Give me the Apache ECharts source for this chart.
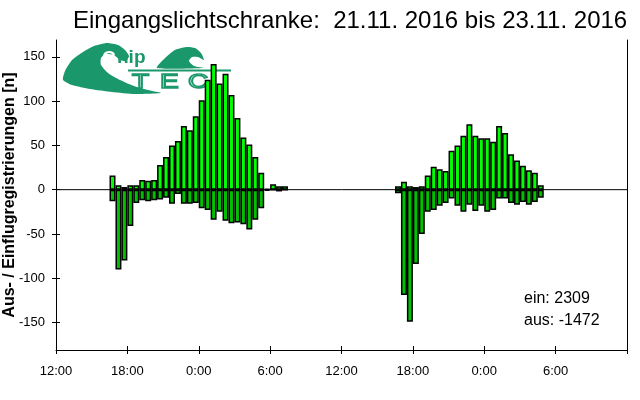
<!DOCTYPE html>
<html><head><meta charset="utf-8">
<script src="https://cdn.jsdelivr.net/npm/echarts@6/dist/echarts.min.js"></script>
<style>html,body{margin:0;padding:0;background:#fff}#c{width:640px;height:400px}</style>
</head><body><div id="c"></div>
<script>
const titleText = 'Eingangslichtschranke:  21.11. 2016 bis 23.11. 2016';
const yAxisTitle = 'Aus- / Einflugregistrierungen [n]';
const xTickLabels = ['12:00','18:00','0:00','6:00','12:00','18:00','0:00','6:00',''];
const yTickValues = [-150,-100,-50,0,50,100,150];
const summaryLines = ['ein: 2309','aus: -1472'];

// half-hour bins, night 21.11 -> 22.11
const night1Times = ['16:30','17:00','17:30','18:00','18:30','19:00','19:30','20:00','20:30','21:00','21:30','22:00','22:30','23:00','23:30',
                     '0:00','0:30','1:00','1:30','2:00','2:30','3:00','3:30','4:00','4:30','5:00','5:30','6:00','6:30','7:00'];
const night1Ein = [16,5,3,5,5,11,10,11,28,37,50,55,72,67,83,101,124,142,120,131,107,81,59,51,37,19,1,6,4,4];
const night1Aus = [-13,-90,-80,-41,-15,-12,-13,-12,-11,-9,-16,-5,-16,-16,-15,-21,-23,-34,-25,-35,-38,-37,-39,-45,-34,-21,-1,0,-2,0];

// half-hour bins, night 22.11 -> 23.11
const night2Times = ['16:30','17:00','17:30','18:00','18:30','19:00','19:30','20:00','20:30','21:00','21:30','22:00','22:30','23:00','23:30',
                     '0:00','0:30','1:00','1:30','2:00','2:30','3:00','3:30','4:00','4:30'];
const night2Ein = [4,9,4,3,4,16,26,23,21,44,50,61,74,61,58,58,54,72,64,40,33,27,22,19,5];
const night2Aus = [-4,-119,-149,-84,-50,-25,-23,-18,-15,-10,-18,-25,-17,-24,-18,-25,-23,-10,-10,-15,-17,-14,-17,-14,-9];

// hours since 21.11. 12:00, bar centred in its half-hour bin
function toHours(t, dayOffset){
  const p = t.split(':');
  let v = +p[0] + (+p[1])/60 - 12;
  if (v < 0) v += 24;
  return v + dayOffset + 0.25;
}
const einData = [], ausData = [];
night1Times.forEach((t,i)=>{ const x = toHours(t,0); einData.push([x, night1Ein[i]]); ausData.push([x, night1Aus[i]]); });
night2Times.forEach((t,i)=>{ const x = toHours(t,24); einData.push([x, night2Ein[i]]); ausData.push([x, night2Aus[i]]); });

const FONT = 'Arial, "Liberation Sans", sans-serif';
const TEAL = '#1b986b';
const Y_MIN = -181, Y_MAX = 169;

const chart = echarts.init(document.getElementById('c'), null, {renderer:'canvas'});
const yBase = {type:'value', min:Y_MIN, max:Y_MAX, splitLine:{show:false}};
chart.setOption({
  animation:false,
  backgroundColor:'#fff',
  grid:{left:56, right:13, top:40, bottom:50, containLabel:false, outerBoundsMode:'none'},
  xAxis:[
    {type:'value', min:0, max:48, interval:6, position:'bottom',
     axisLine:{show:true, onZero:false, lineStyle:{color:'#000', width:1}},
     axisTick:{show:true, inside:false, length:4, lineStyle:{color:'#000'}},
     axisLabel:{color:'#000', fontFamily:FONT, fontSize:13, margin:15,
                formatter:v=>xTickLabels[Math.round(v/6)] || ''},
     splitLine:{show:false}},
    {type:'value', min:0, max:48, interval:6, position:'bottom',
     axisLine:{show:false, onZero:false},
     axisTick:{show:true, inside:true, length:4, lineStyle:{color:'#000'}},
     axisLabel:{show:false}, splitLine:{show:false}}
  ],
  yAxis:[
    Object.assign({}, yBase, {position:'left',
      name:yAxisTitle, nameLocation:'middle', nameGap:38, nameMoveOverlap:false,
      nameTextStyle:{color:'#000', fontFamily:FONT, fontSize:16, fontWeight:'bold'},
      axisLine:{show:true, onZero:false, lineStyle:{color:'#000', width:1}},
      axisTick:{show:true, inside:false, length:4, customValues:yTickValues, lineStyle:{color:'#000'}},
      axisLabel:{color:'#000', fontFamily:FONT, fontSize:13, margin:11, customValues:yTickValues}}),
    Object.assign({}, yBase, {position:'left',
      axisLine:{show:false, onZero:false},
      axisTick:{show:true, inside:true, length:4, customValues:yTickValues, lineStyle:{color:'#000'}},
      axisLabel:{show:false, customValues:yTickValues}}),
    Object.assign({}, yBase, {position:'right',
      axisLine:{show:true, onZero:false, lineStyle:{color:'#000', width:1}},
      axisTick:{show:false}, axisLabel:{show:false}})
  ],
  series:[
    {name:'ein', type:'bar', xAxisIndex:0, yAxisIndex:0, data:einData, barWidth:6, barGap:'-100%', z:3,
     itemStyle:{color:'#00ff00', borderColor:'#000', borderWidth:1.5}},
    {name:'aus', type:'bar', xAxisIndex:0, yAxisIndex:0, data:ausData, barWidth:6, barGap:'-100%', z:3,
     itemStyle:{color:'#00c000', borderColor:'#000', borderWidth:1.5}},
    {name:'zero', type:'line', xAxisIndex:0, yAxisIndex:0, data:[[0,0],[48,0]], symbol:'none', silent:true, z:5,
     lineStyle:{color:'#000', width:1}}
  ],
  graphic:[
    {type:'text', left:73, top:9, z:10, style:{text:titleText, font:'24px '+FONT, fill:'#000'}},
    {type:'text', left:524, top:291, z:10, style:{text:summaryLines[0], font:'16px '+FONT, fill:'#000'}},
    {type:'text', left:524, top:313, z:10, style:{text:summaryLines[1], font:'16px '+FONT, fill:'#000'}},
    // ChipTEC logo (decorative)
    {type:'polygon', z:1, shape:{smooth:0.2, points:[[63,80],[65,71],[72,60],[83,52],[94,46],[107,43],[118,45],[125,50],[129,56],[126,61],[120,60],[114,55],[106,54],[101,58],[101,65],[108,73],[120,80],[134,86],[148,90],[161,93],[135,94],[112,92],[90,89],[72,85]]}, style:{fill:TEAL}},
    {type:'polygon', z:1, shape:{smooth:0.2, points:[[157,68],[165,58],[175,50],[186,47],[195,48],[201,53],[204,60],[198,57],[192,57],[189,61],[194,66],[204,68]]}, style:{fill:TEAL}},
    {type:'text', x:102, y:49, z:2, style:{text:'C', font:'bold 19px '+FONT, fill:'#fff'}},
    {type:'text', x:117, y:48, z:2, style:{text:'hip', font:'bold 19px '+FONT, fill:TEAL}},
    {type:'line', z:1, shape:{x1:128, y1:70.5, x2:231, y2:70.5}, style:{stroke:TEAL, lineWidth:2}},
    {type:'text', x:132, y:72, z:1, scaleX:1.4, style:{text:'T', font:'20px '+FONT, fill:'rgba(0,0,0,0)', stroke:TEAL, lineWidth:1.5}},
    {type:'text', x:160, y:72, z:1, scaleX:1.4, style:{text:'E', font:'20px '+FONT, fill:'rgba(0,0,0,0)', stroke:TEAL, lineWidth:1.5}},
    {type:'text', x:188, y:72, z:1, scaleX:1.4, style:{text:'C', font:'20px '+FONT, fill:'rgba(0,0,0,0)', stroke:TEAL, lineWidth:1.5}}
  ]
});
</script></body></html>
